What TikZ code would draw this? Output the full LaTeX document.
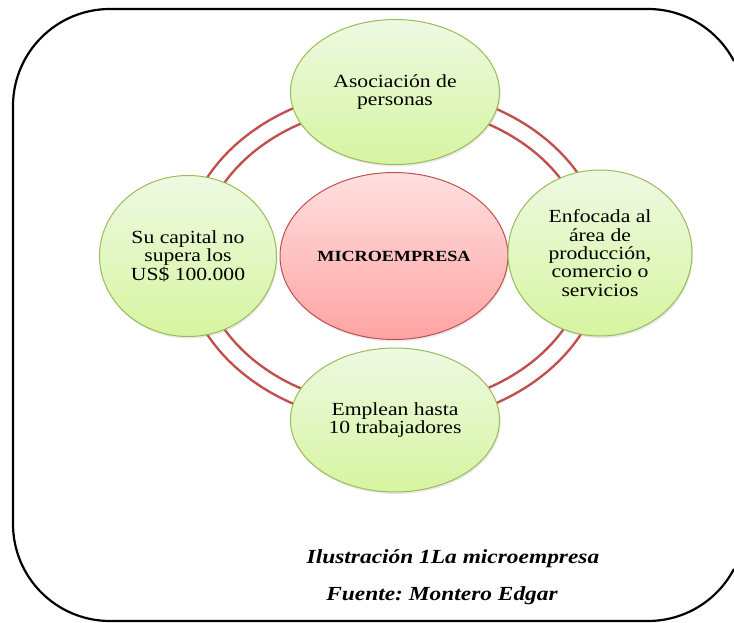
\documentclass[tikz,border=0pt]{standalone}
\usepackage{fontspec}
\setmainfont[FakeStretch=1.17]{Liberation Serif}
\frenchspacing
\usetikzlibrary{shapes.geometric,shadows}

\definecolor{ringred}{RGB}{192,80,77}
\definecolor{leafline}{RGB}{155,187,89}
\definecolor{leaftop}{RGB}{238,249,226}
\definecolor{leafbot}{RGB}{214,245,160}
\definecolor{rosetop}{RGB}{255,224,224}
\definecolor{rosebot}{RGB}{255,163,163}

\tikzset{
  bubble/.style={ellipse, draw=leafline, line width=1pt, top color=leaftop, bottom color=leafbot,
    inner sep=0pt, align=center, font=\fontsize{18.5}{18.3}\selectfont,
    drop shadow={opacity=0.18, shadow xshift=1pt, shadow yshift=-2pt}},
  core/.style={ellipse, draw=ringred, line width=1pt, top color=rosetop, bottom color=rosebot,
    inner sep=0pt, font=\fontsize{15.5}{17}\selectfont\bfseries,
    drop shadow={opacity=0.18, shadow xshift=1pt, shadow yshift=-2pt}},
  ring/.style={draw=ringred, line width=2.5pt, double=white, double distance=14.5pt},
  caption/.style={font=\fontsize{20}{22}\selectfont\bfseries\itshape, anchor=base}
}

\begin{document}
\begin{tikzpicture}[x=1pt,y=-1pt]
    \useasboundingbox (0,0) rectangle (734,623);
    \clip (0,0) rectangle (734,623);
    % frame, its right side runs off the picture
    \draw[line width=2.2pt] (648,106) ++(-27.6:97) arc[start angle=-27.6, end angle=-90, radius=97]
      -- (110,9) arc[start angle=-90, end angle=-180, radius=97]
      -- (13,524) arc[start angle=180, end angle=90, radius=97]
      -- (648,621) arc[start angle=90, end angle=27.6, radius=97];
    % ring behind the bubbles
    \coordinate (hub) at (394,256);
    \draw[ring] (hub) ellipse [x radius=202.5, y radius=159.5];
    \node[core, minimum width=228pt, minimum height=167pt] (micro) at (hub) {MICROEMPRESA};
    \node[bubble, minimum width=209pt, minimum height=145pt] (asociacion) at (395,92) {Asociación de\\personas};
    \node[bubble, minimum width=177pt, minimum height=161pt] (capital) at (188,256) {Su capital no\\supera los\\US\$ 100.000};
    \node[bubble, minimum width=184pt, minimum height=166pt] (enfoque) at (600,253) {Enfocada al\\área de\\producción,\\comercio o\\servicios};
    \node[bubble, minimum width=209pt, minimum height=144pt] (empleo) at (395,420) {Emplean hasta\\10 trabajadores};
    % caption
    \node[caption] (ilustracion) at (453,563) {Ilustración 1La microempresa};
    \node[caption] (fuente) at (442,600) {Fuente: Montero Edgar};
\end{tikzpicture}
\end{document}
